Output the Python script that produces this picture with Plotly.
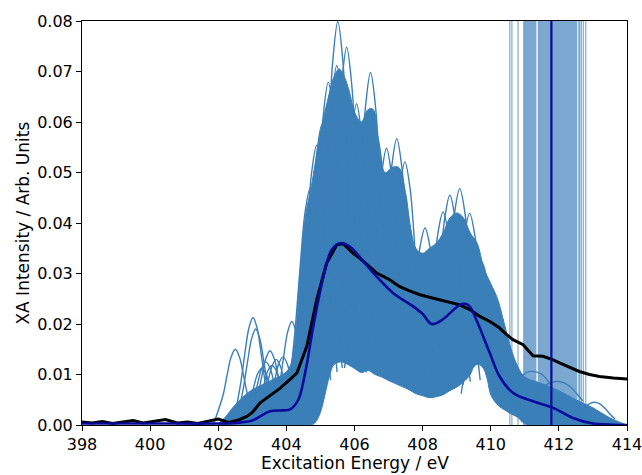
import plotly.graph_objects as go

# ---------------- data ----------------
# Dense core of the ensemble of computed spectra: upper and lower boundary
core_up_e = [402.0, 402.2, 402.5, 402.8, 403.0, 403.3, 403.6, 403.9, 404.1, 404.25,
             404.4, 404.5, 404.6, 404.7, 404.85, 405.0, 405.2, 405.4, 405.55, 405.7,
             405.85, 406.0, 406.2, 406.4, 406.55, 406.7, 406.9, 407.1, 407.3, 407.5,
             407.65, 407.8, 408.0, 408.2, 408.4, 408.6, 408.8, 409.0, 409.2, 409.4,
             409.6, 409.8, 410.0, 410.2, 410.4, 410.6, 410.8, 411.0, 411.5, 412.0,
             412.5, 413.0, 413.5, 414.0]
core_up_v = [0.0, 0.0015, 0.0040, 0.0060, 0.0070, 0.0080, 0.0090, 0.0100, 0.0115, 0.0170,
             0.0300, 0.0380, 0.0430, 0.0460, 0.0520, 0.0580, 0.0640, 0.0690, 0.0705, 0.0690,
             0.0660, 0.0620, 0.0600, 0.0625, 0.0625, 0.0560, 0.0500, 0.0510, 0.0510, 0.0460,
             0.0390, 0.0350, 0.0340, 0.0350, 0.0360, 0.0380, 0.0410, 0.0420, 0.0410, 0.0380,
             0.0360, 0.0310, 0.0280, 0.0250, 0.0200, 0.0150, 0.0115, 0.0095, 0.0082, 0.0068,
             0.0050, 0.0034, 0.0014, 0.0]
core_lo_e = [402.0, 404.7, 404.8, 404.9, 405.0, 405.1, 405.2, 405.3, 405.4, 405.6,
             405.8, 406.0, 406.2, 406.4, 406.6, 406.8, 407.0, 407.2, 407.4, 407.6,
             407.8, 408.0, 408.2, 408.4, 408.6, 408.8, 409.0, 409.2, 409.4, 409.5,
             409.6, 409.7, 409.8, 409.9, 410.0, 410.2, 410.4, 410.6, 410.8, 411.0,
             413.0, 414.0]
core_lo_v = [0.0, 0.0, 0.0002, 0.0010, 0.0025, 0.0050, 0.0080, 0.0105, 0.0120, 0.0125,
             0.0120, 0.0112, 0.0104, 0.0108, 0.0100, 0.0095, 0.0088, 0.0082, 0.0076, 0.0070,
             0.0062, 0.0058, 0.0054, 0.0056, 0.0060, 0.0068, 0.0075, 0.0085, 0.0100, 0.0115,
             0.0120, 0.0118, 0.0110, 0.0090, 0.0060, 0.0040, 0.0030, 0.0022, 0.0015, 0.0003,
             0.0, 0.0]

# Individual spectra whose peaks stick out above the dense core (energy, intensity)
arch_e = [
    [401.85, 402.14, 402.26, 402.38, 402.50, 402.62, 402.74, 402.86, 402.98],
    [402.54, 402.66, 402.78, 402.90, 403.02, 403.14, 403.26, 403.38, 403.50],
    [402.62, 402.74, 402.86, 402.98, 403.10, 403.22, 403.34, 403.46, 403.58],
    [402.92, 403.04, 403.16, 403.28, 403.40, 403.52, 403.64, 403.76, 403.88],
    [403.04, 403.16, 403.28, 403.40, 403.52, 403.64, 403.76, 403.88, 404.00],
    [403.22, 403.34, 403.46, 403.58, 403.70, 403.82, 403.94, 404.06, 404.18],
    [403.42, 403.54, 403.66, 403.78, 403.90, 404.02, 404.14, 404.26, 404.38],
    [403.68, 403.80, 403.92, 404.04, 404.16, 404.28, 404.40, 404.52, 404.64],
    [402.80, 402.92, 403.04, 403.16, 403.28, 403.40, 403.52, 403.64, 403.76],
    [403.10, 403.22, 403.34, 403.46, 403.58, 403.70, 403.82, 403.94, 404.06],
    [404.10, 404.25, 404.40, 404.55, 404.70, 404.85, 405.00, 405.15, 405.30],
    [404.29, 404.44, 404.59, 404.74, 404.89, 405.04, 405.19, 405.34, 405.49],
    [404.44, 404.59, 404.74, 404.89, 405.04, 405.19, 405.34, 405.49, 405.64],
    [404.63, 404.78, 404.93, 405.08, 405.23, 405.38, 405.53, 405.68, 405.83],
    [404.88, 405.03, 405.18, 405.33, 405.48, 405.63, 405.78, 405.93, 406.08],
    [404.91, 405.06, 405.21, 405.36, 405.51, 405.66, 405.81, 405.96, 406.11],
    [405.17, 405.32, 405.47, 405.62, 405.77, 405.92, 406.07, 406.22, 406.37],
    [405.46, 405.61, 405.76, 405.91, 406.06, 406.21, 406.36, 406.51, 406.66],
    [405.71, 405.86, 406.01, 406.16, 406.31, 406.46, 406.61, 406.76, 406.91],
    [405.87, 406.02, 406.17, 406.32, 406.47, 406.62, 406.77, 406.92, 407.07],
    [406.05, 406.20, 406.35, 406.50, 406.65, 406.80, 406.95, 407.10, 407.25],
    [406.34, 406.49, 406.64, 406.79, 406.94, 407.09, 407.24, 407.39, 407.54],
    [406.64, 406.79, 406.94, 407.09, 407.24, 407.39, 407.54, 407.69, 407.84],
    [406.88, 407.03, 407.18, 407.33, 407.48, 407.63, 407.78, 407.93, 408.08],
    [407.47, 407.62, 407.77, 407.92, 408.07, 408.22, 408.37, 408.52, 408.67],
    [408.00, 408.15, 408.30, 408.45, 408.60, 408.75, 408.90, 409.05, 409.20],
    [408.20, 408.35, 408.50, 408.65, 408.80, 408.95, 409.10, 409.25, 409.40],
    [408.49, 408.64, 408.79, 408.94, 409.09, 409.24, 409.39, 409.54, 409.69],
    [408.78, 408.93, 409.08, 409.23, 409.38, 409.53, 409.68, 409.83, 409.98],
    [409.13, 409.28, 409.43, 409.58, 409.73, 409.88, 410.03, 410.18, 410.33],
    [410.60, 410.75, 410.90, 411.05, 411.25, 411.45, 411.60, 411.75, 411.90],
    [411.30, 411.45, 411.60, 411.80, 412.00, 412.20, 412.40, 412.55, 412.70],
    [412.45, 412.60, 412.75, 412.90, 413.05, 413.20, 413.35, 413.50, 413.65],
]
arch_v = [
    [0.0000, 0.0059, 0.0099, 0.0135, 0.0150, 0.0135, 0.0099, 0.0059, 0.0027],
    [0.0038, 0.0083, 0.0141, 0.0192, 0.0213, 0.0192, 0.0141, 0.0083, 0.0038],
    [0.0034, 0.0074, 0.0125, 0.0171, 0.0190, 0.0171, 0.0125, 0.0074, 0.0034],
    [0.0023, 0.0049, 0.0083, 0.0113, 0.0125, 0.0113, 0.0083, 0.0049, 0.0023],
    [0.0026, 0.0057, 0.0097, 0.0132, 0.0147, 0.0132, 0.0097, 0.0057, 0.0026],
    [0.0023, 0.0051, 0.0086, 0.0117, 0.0130, 0.0117, 0.0086, 0.0051, 0.0023],
    [0.0024, 0.0053, 0.0089, 0.0122, 0.0135, 0.0122, 0.0089, 0.0053, 0.0024],
    [0.0037, 0.0080, 0.0135, 0.0185, 0.0205, 0.0185, 0.0135, 0.0080, 0.0037],
    [0.0020, 0.0045, 0.0075, 0.0102, 0.0112, 0.0102, 0.0075, 0.0045, 0.0020],
    [0.0021, 0.0047, 0.0079, 0.0108, 0.0118, 0.0108, 0.0079, 0.0047, 0.0021],
    [0.0089, 0.0183, 0.0310, 0.0422, 0.0469, 0.0422, 0.0310, 0.0183, 0.0089],
    [0.0105, 0.0216, 0.0366, 0.0499, 0.0554, 0.0499, 0.0366, 0.0216, 0.0105],
    [0.0113, 0.0232, 0.0392, 0.0535, 0.0594, 0.0535, 0.0392, 0.0232, 0.0113],
    [0.0129, 0.0265, 0.0448, 0.0611, 0.0679, 0.0611, 0.0448, 0.0265, 0.0129],
    [0.0135, 0.0278, 0.0470, 0.0641, 0.0712, 0.0641, 0.0470, 0.0278, 0.0135],
    [0.0152, 0.0312, 0.0527, 0.0719, 0.0799, 0.0719, 0.0527, 0.0312, 0.0152],
    [0.0142, 0.0292, 0.0494, 0.0673, 0.0748, 0.0673, 0.0494, 0.0292, 0.0142],
    [0.0121, 0.0248, 0.0420, 0.0572, 0.0636, 0.0572, 0.0420, 0.0248, 0.0121],
    [0.0113, 0.0233, 0.0394, 0.0537, 0.0597, 0.0537, 0.0394, 0.0233, 0.0113],
    [0.0133, 0.0272, 0.0461, 0.0628, 0.0698, 0.0628, 0.0461, 0.0272, 0.0133],
    [0.0110, 0.0225, 0.0381, 0.0519, 0.0577, 0.0519, 0.0381, 0.0225, 0.0110],
    [0.0104, 0.0214, 0.0362, 0.0493, 0.0548, 0.0493, 0.0362, 0.0214, 0.0104],
    [0.0108, 0.0221, 0.0374, 0.0510, 0.0567, 0.0510, 0.0374, 0.0221, 0.0108],
    [0.0099, 0.0203, 0.0344, 0.0469, 0.0521, 0.0469, 0.0344, 0.0203, 0.0099],
    [0.0074, 0.0152, 0.0257, 0.0351, 0.0390, 0.0351, 0.0257, 0.0152, 0.0074],
    [0.0080, 0.0165, 0.0279, 0.0380, 0.0422, 0.0380, 0.0279, 0.0165, 0.0080],
    [0.0086, 0.0177, 0.0300, 0.0410, 0.0455, 0.0410, 0.0300, 0.0177, 0.0086],
    [0.0089, 0.0183, 0.0309, 0.0421, 0.0468, 0.0421, 0.0309, 0.0183, 0.0089],
    [0.0080, 0.0163, 0.0277, 0.0377, 0.0419, 0.0377, 0.0277, 0.0163, 0.0080],
    [0.0062, 0.0126, 0.0214, 0.0292, 0.0324, 0.0292, 0.0214, 0.0126, 0.0062],
    [0.0060, 0.0080, 0.0095, 0.0104, 0.0106, 0.0102, 0.0094, 0.0080, 0.0062],
    [0.0050, 0.0065, 0.0078, 0.0085, 0.0086, 0.0082, 0.0072, 0.0060, 0.0048],
    [0.0018, 0.0026, 0.0036, 0.0042, 0.0045, 0.0042, 0.0033, 0.0022, 0.0012],
]

# Experimental spectrum (black)
exp_e = [398.0, 398.3, 398.6, 398.9, 399.2, 399.5, 399.8, 400.1, 400.45, 400.8,
         401.1, 401.4, 401.7, 402.0, 402.3, 402.6, 402.84, 403.0, 403.23, 403.5,
         403.82, 404.1, 404.31, 404.6, 404.89, 405.18, 405.48, 405.67, 405.96, 406.16,
         406.4, 406.65, 407.0, 407.33, 407.6, 407.92, 408.2, 408.5, 408.8, 409.09,
         409.4, 409.68, 410.0, 410.26, 410.45, 410.65, 410.95, 411.24, 411.53, 411.8,
         412.02, 412.3, 412.6, 412.9, 413.19, 413.6, 414.0]
exp_v = [0.0006, 0.0004, 0.0007, 0.0003, 0.0006, 0.0009, 0.0004, 0.0007, 0.0011, 0.0004,
         0.0006, 0.0003, 0.0007, 0.0012, 0.0005, 0.0010, 0.0017, 0.0025, 0.0044, 0.0058,
         0.0073, 0.0090, 0.0103, 0.0156, 0.0248, 0.0320, 0.0357, 0.0359, 0.0340, 0.0330,
         0.0316, 0.0301, 0.0289, 0.0274, 0.0266, 0.0258, 0.0253, 0.0248, 0.0243, 0.0238,
         0.0228, 0.0215, 0.0204, 0.0192, 0.0180, 0.0169, 0.0159, 0.0137, 0.0136, 0.0130,
         0.0123, 0.0114, 0.0106, 0.0100, 0.0096, 0.0093, 0.0091]

# Averaged computed spectrum (navy)
avg_e = [398.0, 400.0, 402.0, 402.5, 403.0, 403.23, 403.52, 403.91, 404.11, 404.35,
         404.55, 404.79, 405.09, 405.33, 405.58, 405.87, 406.26, 406.65, 407.14, 407.72,
         408.0, 408.26, 408.5, 408.7, 409.09, 409.25, 409.38, 409.58, 409.97, 410.26,
         410.65, 411.24, 411.83, 412.41, 413.0, 413.5, 414.0]
avg_v = [0.0003, 0.0003, 0.0003, 0.0004, 0.0009, 0.0017, 0.0027, 0.0029, 0.0031, 0.0050,
         0.0103, 0.0195, 0.0294, 0.0347, 0.0360, 0.0353, 0.0324, 0.0294, 0.0261, 0.0235,
         0.0220, 0.0200, 0.0205, 0.0215, 0.0238, 0.0240, 0.0235, 0.0208, 0.0143, 0.0096,
         0.0064, 0.0047, 0.0034, 0.0014, 0.0003, 0.0001, 0.0]

# Ionisation potentials (vertical lines) and the dense band of them
ip_lines = [410.56, 410.62, 410.80, 412.66, 412.72, 412.79]
ip_band_segments = [(410.95, 411.34), (411.38, 412.54), (412.57, 412.63)]
ip_mean = 411.78

x_ticks = [398, 400, 402, 404, 406, 408, 410, 412, 414]
y_ticks = [0.00, 0.01, 0.02, 0.03, 0.04, 0.05, 0.06, 0.07, 0.08]
x_title = "Excitation Energy / eV"
y_title = "XA Intensity / Arb. Units"

# ---------------- figure ----------------
ENS = "rgb(59,127,185)"
NAVY = "#0a0a9a"
fig = go.Figure()

# dense core
fig.add_trace(go.Scatter(x=core_up_e + core_lo_e[::-1], y=core_up_v + core_lo_v[::-1],
                         mode="lines", fill="toself", fillcolor=ENS,
                         line=dict(color=ENS, width=1.0), line_shape="spline",
                         hoverinfo="skip", showlegend=False))
# protruding individual spectra
ax, ay = [], []
for es, vs in zip(arch_e, arch_v):
    ax += es + [None]
    ay += vs + [None]
fig.add_trace(go.Scatter(x=ax, y=ay, mode="lines", line_shape="spline",
                         line=dict(color=ENS, width=1.4), connectgaps=False,
                         hoverinfo="skip", showlegend=False))

# band of ionisation potentials (drawn over the ensemble, under the averages)
bx, by = [], []
for a, b in ip_band_segments:
    bx += [a, b, b, a, a, None]
    by += [0, 0, 0.08, 0.08, 0, None]
fig.add_trace(go.Scatter(x=bx, y=by, mode="lines", fill="toself",
                         fillcolor="rgba(59,127,185,0.68)", line=dict(width=0),
                         hoverinfo="skip", showlegend=False))
vx, vy = [], []
for e in ip_lines:
    vx += [e, e, None]
    vy += [0, 0.08, None]
fig.add_trace(go.Scatter(x=vx, y=vy, mode="lines",
                         line=dict(color="rgba(59,127,185,0.6)", width=1.3),
                         hoverinfo="skip", showlegend=False))

fig.add_trace(go.Scatter(x=exp_e, y=exp_v, mode="lines",
                         line=dict(color="black", width=3),
                         hoverinfo="skip", showlegend=False))
fig.add_trace(go.Scatter(x=avg_e, y=avg_v, mode="lines", line_shape="spline",
                         line=dict(color=NAVY, width=2.6),
                         hoverinfo="skip", showlegend=False))
fig.add_trace(go.Scatter(x=[ip_mean, ip_mean], y=[0, 0.08], mode="lines",
                         line=dict(color=NAVY, width=2.2),
                         hoverinfo="skip", showlegend=False))

axis_common = dict(showline=True, linecolor="black", linewidth=1.1, mirror=True,
                   ticks="outside", ticklen=5, tickwidth=1.1, tickcolor="black",
                   showgrid=False, zeroline=False, automargin=False,
                   ticklabeloverflow="allow",
                   tickfont=dict(family="DejaVu Sans", size=16, color="black"))

FIG_W, FIG_H = 642, 475
M_L, M_R, M_T, M_B = 81.5, 15, 20.5, 49.5
PLOT_W = FIG_W - M_L - M_R
PLOT_H = FIG_H - M_T - M_B

fig.update_layout(
    width=FIG_W, height=FIG_H,
    margin=dict(l=M_L, r=M_R, t=M_T, b=M_B),
    paper_bgcolor="white", plot_bgcolor="white",
    xaxis=dict(range=[398, 414], tickvals=x_ticks,
               ticktext=[str(t) for t in x_ticks], **axis_common),
    yaxis=dict(range=[0, 0.08], tickvals=y_ticks,
               ticktext=["%.2f" % t for t in y_ticks], **axis_common),
    annotations=[
        dict(text=x_title, xref="paper", yref="paper", x=0.5,
             y=-(464 - 425.5) / PLOT_H, xanchor="center", yanchor="middle",
             showarrow=False, font=dict(family="DejaVu Sans", size=17, color="black")),
        dict(text=y_title, xref="paper", yref="paper", x=-(81.5 - 22) / PLOT_W,
             y=0.5, xanchor="center", yanchor="middle", textangle=-90,
             showarrow=False, font=dict(family="DejaVu Sans", size=17, color="black")),
    ],
)

# remove the browser's default page margin so the figure sits at the window origin
fig.write_html("out.html",
               config={"displayModeBar": False},
               post_script="document.body.style.margin='0';"
                           "document.body.style.overflow='hidden';")
